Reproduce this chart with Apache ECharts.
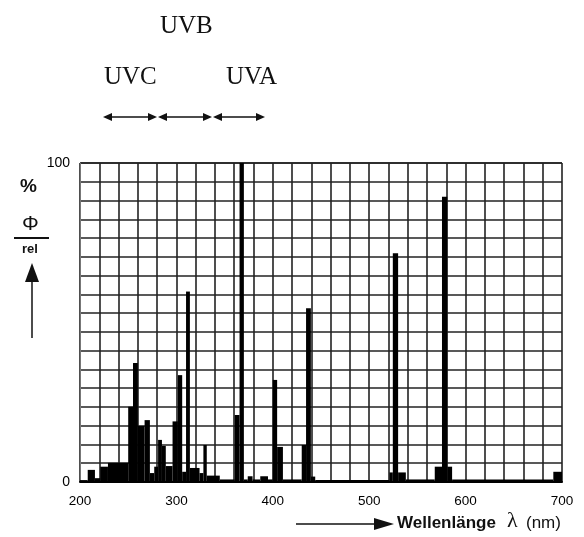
<!DOCTYPE html>
<html>
<head>
<meta charset="utf-8">
<script src="https://cdn.jsdelivr.net/npm/echarts@6/dist/echarts.min.js"></script>
<style>
html,body{margin:0;padding:0;background:#fff;}
#chart{width:584px;height:537px;}
</style>
</head>
<body>
<div id="chart"></div>
<script>
// Spectral bins: start wavelength (nm), end wavelength (nm), relative intensity (%)
const wlFrom = [200,208,215.5,221,229,250,255,260,267,272.5,277,281,285,289,296,301.5,306,310,314,324,328,331.5,345,360.5,365.5,370,374,379,387,395,400,404.5,410.5,430,434.5,439.5,444,521,524.5,530,538,568,575.5,581,586,691];
const wlTo   = [208,215.5,221,229,250,255,260,267,272.5,277,281,285,289,296,301.5,306,310,314,324,328,331.5,345,360.5,365.5,370,374,379,387,395,400,404.5,410.5,430,434.5,439.5,444,521,524.5,530,538,568,575.5,581,586,691,700];
const intensity = [0.6,3.8,1.2,4.8,6,23.6,37.3,17.6,19.4,2.8,4.8,13.2,11.3,5,19,33.5,3.2,59.7,4.4,2.8,11.6,2,0.8,21,100,0.8,1.8,0.8,1.8,0.8,32,11,0.8,11.6,54.5,1.7,0.6,3,71.7,3,0.8,4.8,89.4,4.8,0.8,3.2];
const xTickLabels = [200,300,400,500,600,700];
const yTickLabels = [0,100];
const bandNames = ['UVC','UVB','UVA'];

const chart = echarts.init(document.getElementById('chart'));
const data = wlFrom.map((f,i)=>[f, wlTo[i], intensity[i]]);

function dblArrow(x1,x2,y){
  const h=9, w=4;
  return [
    {type:'line', shape:{x1:x1+h-1,y1:y,x2:x2-h+1,y2:y}, style:{stroke:'#111',lineWidth:1.3}},
    {type:'polygon', shape:{points:[[x1,y],[x1+h,y-w],[x1+h,y+w]]}, style:{fill:'#111'}},
    {type:'polygon', shape:{points:[[x2,y],[x2-h,y-w],[x2-h,y+w]]}, style:{fill:'#111'}}
  ];
}

const serif = '"Liberation Serif", "DejaVu Serif", serif';
const sans = '"Liberation Sans", Arial, sans-serif';

chart.setOption({
  animation:false,
  backgroundColor:'#fff',
  grid:{left:80,right:22,top:163,bottom:55,containLabel:false},
  xAxis:{
    type:'value', min:200, max:700, interval:20,
    axisLine:{show:true,lineStyle:{color:'#000',width:2}},
    axisTick:{show:false},
    splitLine:{show:true,lineStyle:{color:'#222',width:1.6}},
    axisLabel:{
      margin:12, color:'#000', fontFamily:sans, fontSize:13.5,
      formatter:v=> xTickLabels.indexOf(Math.round(v))>=0 && Math.abs(v-Math.round(v))<1e-6 ? String(Math.round(v)) : ''
    }
  },
  yAxis:{
    type:'value', min:0, max:100, interval:100/17,
    axisLine:{show:true,lineStyle:{color:'#777',width:1}},
    axisTick:{show:false},
    splitLine:{show:true,lineStyle:{color:'#222',width:1.6}},
    axisLabel:{
      margin:10, color:'#000', fontFamily:sans, fontSize:14,
      formatter:v=>{ const r=Math.round(v); return (Math.abs(v-r)<1e-6 && yTickLabels.indexOf(r)>=0) ? String(r) : ''; }
    }
  },
  series:[{
    type:'custom',
    encode:{x:[0,1],y:2},
    data:data,
    renderItem:(params,api)=>{
      const p0 = api.coord([api.value(0),0]);
      const p1 = api.coord([api.value(1),api.value(2)]);
      return {type:'rect', shape:{x:p0[0], y:p1[1], width:p1[0]-p0[0], height:p0[1]-p1[1]}, style:{fill:'#000'}};
    }
  }],
  graphic:[
    {type:'text', left:160, top:14, style:{text:bandNames[1], font:'25px '+serif, fill:'#111'}},
    {type:'text', left:104, top:65, style:{text:bandNames[0], font:'25px '+serif, fill:'#111'}},
    {type:'text', left:226, top:65, style:{text:bandNames[2], font:'25px '+serif, fill:'#111'}},
    ...dblArrow(103,157,117),
    ...dblArrow(158,212,117),
    ...dblArrow(213,265,117),
    // y-axis label
    {type:'text', left:20, top:177, style:{text:'%', font:'bold 19px '+sans, fill:'#111'}},
    {type:'text', left:22, top:214, style:{text:'Φ', font:'21px '+sans, fill:'#111'}},
    {type:'line', shape:{x1:14,y1:238,x2:49,y2:238}, style:{stroke:'#111',lineWidth:2}},
    {type:'text', left:22, top:243, style:{text:'rel', font:'bold 13px '+sans, fill:'#111'}},
    {type:'line', shape:{x1:32,y1:278,x2:32,y2:338}, style:{stroke:'#111',lineWidth:1.5}},
    {type:'polygon', shape:{points:[[32,263],[25,282],[39,282]]}, style:{fill:'#111'}},
    // x-axis label
    {type:'line', shape:{x1:296,y1:524,x2:378,y2:524}, style:{stroke:'#111',lineWidth:1.5}},
    {type:'polygon', shape:{points:[[394,524],[374,518],[374,530]]}, style:{fill:'#111'}},
    {type:'text', left:397, top:515, style:{text:'Wellenlänge', font:'bold 17px '+sans, fill:'#111'}},
    {type:'text', left:507, top:510, style:{text:'λ', font:'22px '+serif, fill:'#111'}},
    {type:'text', left:526, top:515, style:{text:'(nm)', font:'17px '+sans, fill:'#111'}}
  ]
});
</script>
</body>
</html>
